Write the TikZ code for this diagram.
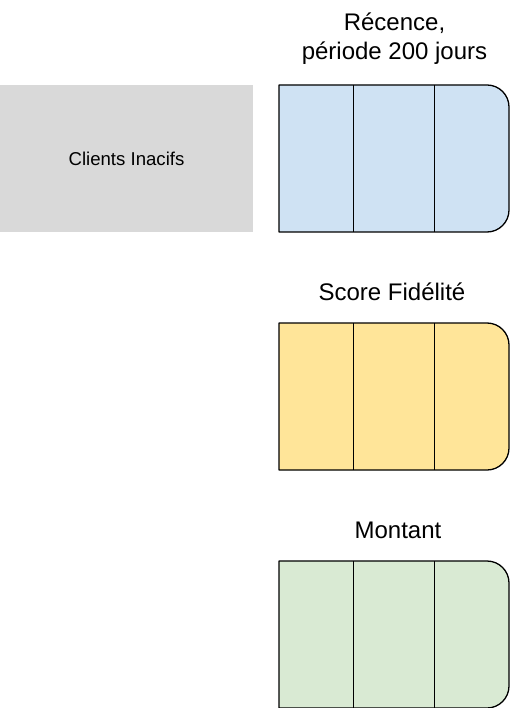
\documentclass[tikz,border=0pt]{standalone}
\usepackage{fontspec}
\setmainfont{Liberation Sans}
\usetikzlibrary{positioning}

\definecolor{recencefill}{HTML}{CFE2F3}
\definecolor{fidelitefill}{HTML}{FFE599}
\definecolor{montantfill}{HTML}{D9EAD3}
\definecolor{inactiffill}{HTML}{D9D9D9}

\begin{document}
\begin{tikzpicture}[x=1pt, y=-1pt]

\useasboundingbox (0, 0) rectangle (510, 708) ;

\def\binleft{279}
\def\binright{509}
\def\binheight{147}

% inactive clients

\tikzstyle{inactive box} = [shape=rectangle, fill=inactiffill, minimum width=253pt, minimum height=147pt,
	inner sep=0pt, font=\fontsize{18.6}{22}\selectfont]

\node [inactive box] (inactifs) at (126.5, 158.5) {Clients Inacifs} ;

% score bins

\tikzstyle{bin outline} = [line width=1.3pt, draw=black, line join=round]
\tikzstyle{bin divider} = [line width=1.3pt, color=black]
\tikzstyle{bin title} = [align=center, font=\fontsize{24}{29}\selectfont]

\foreach \bintop/\binfill in {85/recencefill, 323/fidelitefill, 561/montantfill} {
	\filldraw [bin outline, fill=\binfill]
		(\binleft, \bintop) [rounded corners=22pt] -- (\binright, \bintop) -- (\binright, \bintop + \binheight)
		[sharp corners] -- (\binleft, \bintop + \binheight) -- cycle ;
	\foreach \xdiv in {353.5, 434.5}
		\draw [bin divider] (\xdiv, \bintop) -- (\xdiv, \bintop + \binheight) ;
}

% titles

\node [bin title] (recence) at (394.5, 39) {Récence,\\période 200 jours} ;
\node [bin title] (fidelite) at (392, 292) {Score Fidélité} ;
\node [bin title] (montant) at (398, 530) {Montant} ;

\end{tikzpicture}
\end{document}
